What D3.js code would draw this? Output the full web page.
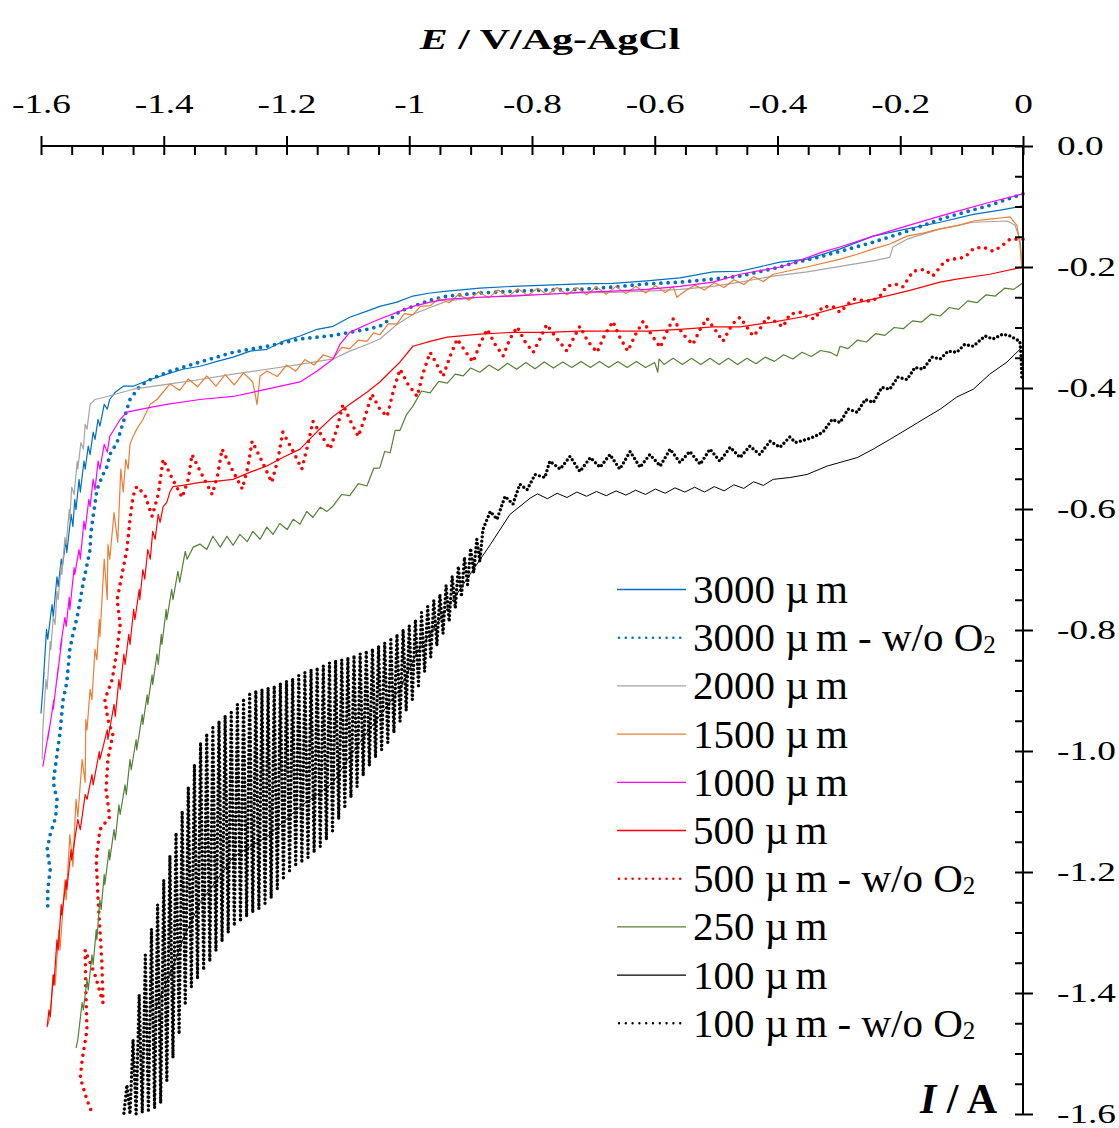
<!DOCTYPE html>
<html>
<head>
<meta charset="utf-8">
<script src="https://cdn.jsdelivr.net/npm/d3@7"></script>
<style>
  html, body { margin: 0; padding: 0; background: #fff; }
  svg { display: block; }
  text { font-family: "Liberation Serif", "Times New Roman", serif; fill: #000; }
</style>
</head>
<body>
<svg id="chart" width="1119" height="1128"></svg>
<script>
// axis ticks
const xTicks = [-1.6, -1.4, -1.2, -1.0, -0.8, -0.6, -0.4, -0.2, 0]
const xTickLabels = ["-1.6", "-1.4", "-1.2", "-1", "-0.8", "-0.6", "-0.4", "-0.2", "0"]
const yTicks = [0, -0.2, -0.4, -0.6, -0.8, -1.0, -1.2, -1.4, -1.6]
const yTickLabels = ["0.0", "-0.2", "-0.4", "-0.6", "-0.8", "-1.0", "-1.2", "-1.4", "-1.6"]

const seriesNames = ["3000 µm", "3000 µm - w/o O2", "2000 µm", "1500 µm", "1000 µm",
    "500 µm", "500 µm - w/o O2", "250 µm", "100 µm", "100 µm - w/o O2"]

// [E (V), I (A)]
const s3000 = [[0.000,-0.099],[-0.037,-0.106],[-0.081,-0.113],[-0.135,-0.126],[-0.189,-0.137],[-0.244,-0.149],[-0.298,-0.170],[-0.352,-0.187],[-0.396,-0.192],[-0.461,-0.207],[-0.505,-0.208],[-0.559,-0.218],[-0.613,-0.223],[-0.668,-0.227],[-0.722,-0.228],[-0.776,-0.230],[-0.831,-0.232],[-0.885,-0.235],[-0.938,-0.240],[-0.966,-0.243],[-0.994,-0.248],[-1.020,-0.258],[-1.048,-0.265],[-1.069,-0.273],[-1.097,-0.283],[-1.124,-0.298],[-1.150,-0.303],[-1.178,-0.314],[-1.206,-0.323],[-1.232,-0.336],[-1.259,-0.339],[-1.287,-0.349],[-1.313,-0.356],[-1.341,-0.364],[-1.369,-0.369],[-1.395,-0.377],[-1.422,-0.386],[-1.450,-0.397],[-1.466,-0.397],[-1.479,-0.407],[-1.488,-0.419],[-1.492,-0.435],[-1.497,-0.427],[-1.504,-0.463],[-1.507,-0.452],[-1.512,-0.485],[-1.515,-0.473],[-1.520,-0.510],[-1.523,-0.496],[-1.528,-0.534],[-1.530,-0.521],[-1.536,-0.572],[-1.538,-0.551],[-1.543,-0.601],[-1.545,-0.584],[-1.548,-0.629],[-1.551,-0.609],[-1.558,-0.672],[-1.559,-0.650],[-1.566,-0.700],[-1.567,-0.683],[-1.572,-0.728],[-1.574,-0.712],[-1.580,-0.778],[-1.582,-0.758],[-1.589,-0.815],[-1.591,-0.799],[-1.597,-0.898],[-1.595,-0.870],[-1.600,-0.938]]

const s3000n = [[0.000,-0.079],[-0.054,-0.098],[-0.108,-0.113],[-0.135,-0.121],[-0.189,-0.141],[-0.244,-0.159],[-0.298,-0.174],[-0.326,-0.182],[-0.380,-0.195],[-0.396,-0.200],[-0.461,-0.215],[-0.505,-0.220],[-0.559,-0.225],[-0.613,-0.228],[-0.668,-0.233],[-0.722,-0.237],[-0.776,-0.238],[-0.831,-0.240],[-0.885,-0.243],[-0.938,-0.248],[-0.966,-0.255],[-0.994,-0.265],[-1.015,-0.273],[-1.031,-0.286],[-1.048,-0.298],[-1.069,-0.303],[-1.097,-0.308],[-1.124,-0.313],[-1.150,-0.316],[-1.178,-0.319],[-1.232,-0.331],[-1.287,-0.341],[-1.341,-0.357],[-1.395,-0.374],[-1.422,-0.386],[-1.439,-0.397],[-1.455,-0.419],[-1.460,-0.435],[-1.466,-0.457],[-1.471,-0.473],[-1.476,-0.490],[-1.488,-0.510],[-1.492,-0.529],[-1.499,-0.543],[-1.509,-0.568],[-1.512,-0.592],[-1.515,-0.612],[-1.519,-0.642],[-1.520,-0.667],[-1.525,-0.692],[-1.531,-0.721],[-1.536,-0.750],[-1.541,-0.778],[-1.548,-0.807],[-1.553,-0.832],[-1.558,-0.887],[-1.564,-0.915],[-1.569,-0.970],[-1.574,-1.006],[-1.580,-1.052],[-1.574,-1.080],[-1.576,-1.109],[-1.585,-1.138],[-1.590,-1.163],[-1.585,-1.196],[-1.589,-1.229],[-1.589,-1.257]]

const s2000 = [[-0.002,-0.190],[-0.005,-0.154],[-0.013,-0.131],[-0.026,-0.124],[-0.081,-0.126],[-0.135,-0.137],[-0.189,-0.154],[-0.212,-0.167],[-0.217,-0.184],[-0.244,-0.190],[-0.298,-0.199],[-0.352,-0.208],[-0.407,-0.215],[-0.461,-0.225],[-0.505,-0.232],[-0.559,-0.237],[-0.613,-0.240],[-0.668,-0.242],[-0.722,-0.243],[-0.776,-0.245],[-0.831,-0.247],[-0.885,-0.250],[-0.938,-0.256],[-0.994,-0.278],[-1.020,-0.295],[-1.048,-0.319],[-1.069,-0.328],[-1.097,-0.339],[-1.124,-0.352],[-1.178,-0.361],[-1.232,-0.369],[-1.287,-0.377],[-1.341,-0.386],[-1.395,-0.394],[-1.450,-0.402],[-1.492,-0.414],[-1.512,-0.419],[-1.520,-0.427],[-1.525,-0.468],[-1.528,-0.460],[-1.531,-0.501],[-1.535,-0.490],[-1.540,-0.534],[-1.541,-0.521],[-1.546,-0.576],[-1.550,-0.564],[-1.553,-0.617],[-1.554,-0.601],[-1.559,-0.659],[-1.561,-0.647],[-1.566,-0.708],[-1.567,-0.692],[-1.572,-0.750],[-1.574,-0.736],[-1.577,-0.791],[-1.580,-0.778],[-1.584,-0.832],[-1.585,-0.819],[-1.590,-0.898],[-1.592,-0.882],[-1.597,-0.965],[-1.598,-1.014]]

const s1500 = [[-0.002,-0.200],[-0.005,-0.162],[-0.010,-0.131],[-0.021,-0.117],[-0.037,-0.119],[-0.054,-0.121],[-0.081,-0.124],[-0.108,-0.132],[-0.135,-0.137],[-0.163,-0.144],[-0.189,-0.149],[-0.217,-0.162],[-0.244,-0.170],[-0.270,-0.179],[-0.298,-0.187],[-0.352,-0.200],[-0.407,-0.212],[-0.423,-0.224],[-0.439,-0.216],[-0.455,-0.229],[-0.471,-0.221],[-0.487,-0.234],[-0.503,-0.226],[-0.519,-0.238],[-0.535,-0.230],[-0.551,-0.240],[-0.564,-0.250],[-0.570,-0.232],[-0.583,-0.242],[-0.599,-0.231],[-0.615,-0.243],[-0.631,-0.232],[-0.647,-0.244],[-0.663,-0.232],[-0.679,-0.245],[-0.695,-0.233],[-0.711,-0.246],[-0.727,-0.234],[-0.743,-0.246],[-0.759,-0.234],[-0.775,-0.246],[-0.791,-0.235],[-0.807,-0.247],[-0.823,-0.236],[-0.839,-0.249],[-0.855,-0.238],[-0.871,-0.251],[-0.887,-0.241],[-0.903,-0.255],[-0.919,-0.245],[-0.935,-0.259],[-0.951,-0.252],[-0.966,-0.264],[-0.982,-0.265],[-0.994,-0.279],[-1.008,-0.277],[-1.020,-0.294],[-1.034,-0.294],[-1.048,-0.312],[-1.058,-0.309],[-1.069,-0.323],[-1.083,-0.321],[-1.097,-0.335],[-1.110,-0.333],[-1.124,-0.351],[-1.140,-0.345],[-1.155,-0.362],[-1.170,-0.353],[-1.185,-0.372],[-1.200,-0.362],[-1.215,-0.381],[-1.232,-0.372],[-1.243,-0.380],[-1.248,-0.427],[-1.255,-0.390],[-1.270,-0.375],[-1.285,-0.395],[-1.300,-0.378],[-1.315,-0.397],[-1.330,-0.380],[-1.345,-0.398],[-1.360,-0.385],[-1.374,-0.404],[-1.390,-0.393],[-1.411,-0.419],[-1.422,-0.427],[-1.434,-0.452],[-1.444,-0.468],[-1.450,-0.480],[-1.455,-0.493],[-1.458,-0.534],[-1.462,-0.518],[-1.466,-0.572],[-1.470,-0.534],[-1.475,-0.655],[-1.481,-0.606],[-1.488,-0.683],[-1.491,-0.659],[-1.492,-0.750],[-1.497,-0.683],[-1.504,-0.811],[-1.505,-0.783],[-1.509,-0.849],[-1.512,-0.832],[-1.517,-0.915],[-1.520,-0.898],[-1.525,-0.965],[-1.527,-0.948],[-1.528,-1.052],[-1.533,-1.014],[-1.540,-1.109],[-1.543,-1.080],[-1.548,-1.191],[-1.553,-1.138],[-1.559,-1.246],[-1.561,-1.213],[-1.569,-1.329],[-1.571,-1.296],[-1.577,-1.387],[-1.580,-1.370],[-1.585,-1.439],[-1.589,-1.453]]

const s1000 = [[0.000,-0.079],[-0.054,-0.093],[-0.108,-0.108],[-0.135,-0.116],[-0.189,-0.132],[-0.244,-0.149],[-0.298,-0.167],[-0.326,-0.175],[-0.380,-0.195],[-0.396,-0.200],[-0.461,-0.212],[-0.505,-0.225],[-0.559,-0.232],[-0.613,-0.237],[-0.668,-0.240],[-0.722,-0.242],[-0.776,-0.245],[-0.831,-0.248],[-0.885,-0.250],[-0.938,-0.253],[-0.966,-0.258],[-0.994,-0.265],[-1.020,-0.275],[-1.048,-0.286],[-1.069,-0.295],[-1.097,-0.308],[-1.113,-0.328],[-1.124,-0.352],[-1.150,-0.372],[-1.178,-0.390],[-1.232,-0.402],[-1.287,-0.414],[-1.341,-0.419],[-1.395,-0.427],[-1.422,-0.432],[-1.460,-0.440],[-1.471,-0.452],[-1.483,-0.472],[-1.488,-0.480],[-1.492,-0.506],[-1.497,-0.493],[-1.504,-0.534],[-1.507,-0.521],[-1.512,-0.568],[-1.515,-0.551],[-1.520,-0.596],[-1.522,-0.584],[-1.528,-0.634],[-1.530,-0.620],[-1.536,-0.683],[-1.538,-0.667],[-1.545,-0.708],[-1.546,-0.697],[-1.553,-0.766],[-1.554,-0.746],[-1.559,-0.794],[-1.561,-0.779],[-1.569,-0.832],[-1.566,-0.816],[-1.574,-0.882],[-1.572,-0.862],[-1.580,-0.931],[-1.579,-0.915],[-1.589,-0.981],[-1.587,-0.965],[-1.597,-1.026]]

const s500 = [[0.000,-0.200],[-0.054,-0.212],[-0.108,-0.220],[-0.135,-0.225],[-0.189,-0.240],[-0.244,-0.253],[-0.298,-0.266],[-0.352,-0.281],[-0.407,-0.291],[-0.461,-0.299],[-0.505,-0.299],[-0.559,-0.303],[-0.613,-0.306],[-0.668,-0.306],[-0.722,-0.306],[-0.776,-0.308],[-0.831,-0.308],[-0.885,-0.311],[-0.938,-0.316],[-0.966,-0.323],[-0.994,-0.331],[-1.015,-0.357],[-1.048,-0.390],[-1.069,-0.407],[-1.097,-0.427],[-1.124,-0.447],[-1.150,-0.472],[-1.178,-0.501],[-1.206,-0.515],[-1.232,-0.529],[-1.259,-0.539],[-1.287,-0.551],[-1.313,-0.554],[-1.341,-0.556],[-1.369,-0.561],[-1.385,-0.563],[-1.390,-0.572],[-1.395,-0.589],[-1.401,-0.596],[-1.406,-0.622],[-1.409,-0.609],[-1.414,-0.650],[-1.418,-0.637],[-1.422,-0.683],[-1.426,-0.667],[-1.431,-0.716],[-1.434,-0.700],[-1.439,-0.750],[-1.440,-0.733],[-1.447,-0.783],[-1.449,-0.766],[-1.455,-0.824],[-1.457,-0.807],[-1.463,-0.857],[-1.465,-0.840],[-1.471,-0.898],[-1.473,-0.882],[-1.479,-0.943],[-1.481,-0.923],[-1.491,-0.981],[-1.492,-0.965],[-1.504,-1.014],[-1.505,-1.001],[-1.515,-1.056],[-1.517,-1.039],[-1.525,-1.080],[-1.528,-1.072],[-1.536,-1.130],[-1.540,-1.113],[-1.550,-1.180],[-1.551,-1.163],[-1.558,-1.229],[-1.559,-1.213],[-1.566,-1.271],[-1.567,-1.254],[-1.572,-1.329],[-1.574,-1.312],[-1.579,-1.387],[-1.580,-1.370],[-1.585,-1.439],[-1.587,-1.428],[-1.590,-1.456]]

const s500n = [[0.000,-0.154],[-0.021,-0.154],[-0.037,-0.167],[-0.049,-0.174],[-0.065,-0.167],[-0.081,-0.170],[-0.095,-0.184],[-0.114,-0.187],[-0.127,-0.190],[-0.147,-0.215],[-0.160,-0.204],[-0.179,-0.207],[-0.196,-0.233],[-0.209,-0.228],[-0.222,-0.232],[-0.233,-0.248],[-0.246,-0.256],[-0.257,-0.256],[-0.274,-0.253],[-0.285,-0.261],[-0.298,-0.275],[-0.310,-0.265],[-0.327,-0.266],[-0.339,-0.286],[-0.350,-0.283],[-0.363,-0.275],[-0.380,-0.278],[-0.391,-0.299],[-0.404,-0.290],[-0.417,-0.283],[-0.429,-0.303],[-0.440,-0.314],[-0.450,-0.299],[-0.461,-0.283],[-0.474,-0.295],[-0.489,-0.323],[-0.502,-0.303],[-0.515,-0.285],[-0.526,-0.303],[-0.538,-0.328],[-0.554,-0.311],[-0.570,-0.286],[-0.580,-0.306],[-0.591,-0.333],[-0.604,-0.314],[-0.619,-0.290],[-0.631,-0.311],[-0.644,-0.339],[-0.657,-0.316],[-0.668,-0.290],[-0.681,-0.311],[-0.694,-0.341],[-0.709,-0.323],[-0.722,-0.298],[-0.733,-0.319],[-0.743,-0.339],[-0.759,-0.319],[-0.776,-0.295],[-0.787,-0.319],[-0.798,-0.341],[-0.811,-0.324],[-0.824,-0.299],[-0.836,-0.319],[-0.847,-0.347],[-0.860,-0.328],[-0.873,-0.303],[-0.885,-0.328],[-0.896,-0.357],[-0.909,-0.339],[-0.922,-0.319],[-0.934,-0.349],[-0.945,-0.381],[-0.955,-0.361],[-0.966,-0.341],[-0.978,-0.377],[-0.987,-0.414],[-1.002,-0.394],[-1.015,-0.369],[-1.026,-0.405],[-1.036,-0.447],[-1.048,-0.435],[-1.061,-0.410],[-1.072,-0.448],[-1.083,-0.480],[-1.097,-0.452],[-1.108,-0.427],[-1.118,-0.468],[-1.129,-0.501],[-1.142,-0.480],[-1.157,-0.455],[-1.165,-0.493],[-1.175,-0.534],[-1.189,-0.505],[-1.206,-0.473],[-1.214,-0.518],[-1.224,-0.556],[-1.240,-0.521],[-1.256,-0.488],[-1.263,-0.531],[-1.272,-0.567],[-1.289,-0.534],[-1.305,-0.501],[-1.312,-0.543],[-1.321,-0.576],[-1.338,-0.543],[-1.354,-0.510],[-1.360,-0.551],[-1.370,-0.581],[-1.387,-0.548],[-1.401,-0.518],[-1.409,-0.576],[-1.419,-0.612],[-1.431,-0.576],[-1.444,-0.563],[-1.450,-0.579],[-1.455,-0.617],[-1.460,-0.667],[-1.468,-0.708],[-1.476,-0.750],[-1.471,-0.791],[-1.476,-0.832],[-1.484,-0.882],[-1.496,-0.915],[-1.491,-0.948],[-1.483,-0.973],[-1.491,-1.014],[-1.494,-1.064],[-1.488,-1.109],[-1.504,-1.130],[-1.510,-1.180],[-1.507,-1.246],[-1.501,-1.345],[-1.499,-1.416],[-1.512,-1.370],[-1.528,-1.329],[-1.527,-1.395],[-1.525,-1.461],[-1.533,-1.511],[-1.536,-1.540],[-1.525,-1.577],[-1.517,-1.598]]

const s250 = [[0.000,-0.226],[-0.015,-0.237],[-0.030,-0.235],[-0.045,-0.248],[-0.060,-0.246],[-0.075,-0.259],[-0.090,-0.256],[-0.105,-0.270],[-0.120,-0.267],[-0.135,-0.281],[-0.150,-0.278],[-0.165,-0.291],[-0.180,-0.289],[-0.195,-0.302],[-0.210,-0.300],[-0.225,-0.313],[-0.240,-0.310],[-0.255,-0.324],[-0.270,-0.321],[-0.285,-0.335],[-0.298,-0.331],[-0.303,-0.347],[-0.314,-0.341],[-0.330,-0.338],[-0.345,-0.348],[-0.360,-0.341],[-0.375,-0.352],[-0.390,-0.345],[-0.405,-0.356],[-0.420,-0.349],[-0.435,-0.360],[-0.450,-0.351],[-0.465,-0.361],[-0.480,-0.351],[-0.495,-0.361],[-0.510,-0.351],[-0.525,-0.361],[-0.540,-0.351],[-0.555,-0.361],[-0.570,-0.351],[-0.585,-0.361],[-0.593,-0.352],[-0.595,-0.374],[-0.600,-0.358],[-0.615,-0.366],[-0.630,-0.356],[-0.645,-0.366],[-0.660,-0.356],[-0.675,-0.366],[-0.690,-0.356],[-0.705,-0.366],[-0.720,-0.356],[-0.735,-0.366],[-0.750,-0.357],[-0.765,-0.367],[-0.780,-0.357],[-0.795,-0.368],[-0.810,-0.358],[-0.825,-0.369],[-0.840,-0.359],[-0.855,-0.371],[-0.870,-0.362],[-0.885,-0.374],[-0.900,-0.367],[-0.912,-0.380],[-0.925,-0.377],[-0.938,-0.392],[-0.952,-0.389],[-0.966,-0.408],[-0.980,-0.405],[-0.994,-0.430],[-1.005,-0.445],[-1.015,-0.470],[-1.023,-0.470],[-1.031,-0.507],[-1.040,-0.505],[-1.048,-0.532],[-1.058,-0.533],[-1.069,-0.562],[-1.083,-0.558],[-1.097,-0.578],[-1.110,-0.576],[-1.124,-0.595],[-1.134,-0.604],[-1.145,-0.597],[-1.157,-0.614],[-1.167,-0.604],[-1.178,-0.625],[-1.189,-0.617],[-1.199,-0.634],[-1.211,-0.624],[-1.222,-0.642],[-1.232,-0.630],[-1.243,-0.650],[-1.255,-0.637],[-1.264,-0.654],[-1.276,-0.642],[-1.287,-0.660],[-1.297,-0.645],[-1.308,-0.663],[-1.320,-0.645],[-1.330,-0.667],[-1.341,-0.658],[-1.352,-0.663],[-1.362,-0.683],[-1.365,-0.670],[-1.374,-0.721],[-1.377,-0.703],[-1.385,-0.750],[-1.387,-0.733],[-1.395,-0.783],[-1.396,-0.766],[-1.403,-0.824],[-1.404,-0.807],[-1.409,-0.857],[-1.411,-0.840],[-1.418,-0.890],[-1.419,-0.874],[-1.426,-0.923],[-1.427,-0.907],[-1.434,-0.956],[-1.435,-0.940],[-1.444,-0.998],[-1.445,-0.981],[-1.453,-1.031],[-1.455,-1.014],[-1.461,-1.072],[-1.463,-1.056],[-1.471,-1.105],[-1.473,-1.089],[-1.479,-1.147],[-1.481,-1.130],[-1.488,-1.180],[-1.489,-1.163],[-1.496,-1.221],[-1.497,-1.204],[-1.502,-1.262],[-1.504,-1.246],[-1.509,-1.312],[-1.510,-1.295],[-1.515,-1.353],[-1.517,-1.337],[-1.523,-1.395],[-1.525,-1.378],[-1.531,-1.428],[-1.533,-1.416],[-1.540,-1.477],[-1.543,-1.491]]

const s100 = [[0.000,-0.331],[-0.013,-0.344],[-0.026,-0.357],[-0.054,-0.377],[-0.081,-0.402],[-0.108,-0.415],[-0.135,-0.435],[-0.163,-0.452],[-0.189,-0.468],[-0.217,-0.485],[-0.244,-0.501],[-0.270,-0.515],[-0.298,-0.523],[-0.319,-0.529],[-0.352,-0.543],[-0.380,-0.548],[-0.407,-0.551],[-0.423,-0.561],[-0.439,-0.555],[-0.455,-0.566],[-0.471,-0.560],[-0.487,-0.570],[-0.503,-0.563],[-0.519,-0.572],[-0.535,-0.564],[-0.551,-0.572],[-0.567,-0.565],[-0.583,-0.574],[-0.599,-0.567],[-0.615,-0.576],[-0.631,-0.569],[-0.647,-0.577],[-0.663,-0.570],[-0.679,-0.578],[-0.695,-0.571],[-0.711,-0.579],[-0.727,-0.572],[-0.743,-0.581],[-0.759,-0.574],[-0.775,-0.583],[-0.791,-0.575],[-0.803,-0.582],[-0.836,-0.609],[-0.868,-0.659],[-0.901,-0.708],[-0.934,-0.758],[-0.966,-0.807],[-0.987,-0.836],[-1.015,-0.898],[-1.043,-0.935],[-1.069,-0.970],[-1.097,-1.009],[-1.124,-1.052],[-1.150,-1.072],[-1.178,-1.092],[-1.206,-1.118],[-1.232,-1.142],[-1.259,-1.158],[-1.287,-1.175],[-1.313,-1.213],[-1.341,-1.251],[-1.369,-1.312],[-1.385,-1.357],[-1.401,-1.395],[-1.414,-1.428]]

const s100n = [[-0.002,-0.382],[-0.003,-0.349],[-0.005,-0.323],[-0.021,-0.314],[-0.033,-0.311],[-0.049,-0.319],[-0.062,-0.314],[-0.081,-0.331],[-0.095,-0.328],[-0.108,-0.341],[-0.122,-0.339],[-0.135,-0.352],[-0.148,-0.349],[-0.163,-0.369],[-0.176,-0.366],[-0.189,-0.386],[-0.204,-0.382],[-0.217,-0.402],[-0.230,-0.399],[-0.244,-0.424],[-0.257,-0.419],[-0.270,-0.440],[-0.285,-0.435],[-0.298,-0.457],[-0.311,-0.452],[-0.326,-0.473],[-0.339,-0.480],[-0.352,-0.485],[-0.371,-0.490],[-0.380,-0.481],[-0.396,-0.498],[-0.412,-0.488],[-0.429,-0.510],[-0.445,-0.496],[-0.461,-0.515],[-0.477,-0.498],[-0.494,-0.521],[-0.510,-0.501],[-0.526,-0.526],[-0.543,-0.505],[-0.559,-0.523],[-0.575,-0.501],[-0.591,-0.529],[-0.608,-0.510],[-0.624,-0.531],[-0.640,-0.505],[-0.657,-0.534],[-0.673,-0.510],[-0.689,-0.531],[-0.705,-0.515],[-0.722,-0.538],[-0.738,-0.513],[-0.754,-0.534],[-0.771,-0.521],[-0.779,-0.548],[-0.795,-0.543],[-0.808,-0.568],[-0.820,-0.559],[-0.831,-0.592],[-0.844,-0.579],[-0.857,-0.617],[-0.868,-0.604],
    [-0.880,-0.634],[-0.885,-0.687],[-0.890,-0.650],[-0.895,-0.705],[-0.900,-0.665],[-0.905,-0.725],[-0.910,-0.680],[-0.915,-0.745],[-0.920,-0.695],[-0.925,-0.764],[-0.930,-0.711],[-0.935,-0.786],[-0.940,-0.726],[-0.945,-0.806],[-0.950,-0.741],[-0.955,-0.826],[-0.960,-0.751],[-0.965,-0.845],[-0.970,-0.761],[-0.975,-0.869],[-0.980,-0.771],[-0.985,-0.892],[-0.990,-0.783],[-0.995,-0.915],[-1.000,-0.793],[-1.005,-0.933],[-1.010,-0.799],[-1.015,-0.951],[-1.020,-0.807],[-1.025,-0.970],[-1.030,-0.816],[-1.035,-0.986],[-1.040,-0.821],[-1.045,-0.998],[-1.050,-0.826],[-1.055,-1.011],[-1.060,-0.831],[-1.065,-1.024],[-1.070,-0.834],[-1.075,-1.041],[-1.080,-0.839],[-1.085,-1.059],[-1.090,-0.842],[-1.095,-1.077],[-1.100,-0.845],[-1.105,-1.095],[-1.110,-0.849],[-1.115,-1.113],[-1.120,-0.850],[-1.125,-1.132],[-1.130,-0.854],[-1.135,-1.147],[-1.140,-0.859],[-1.145,-1.158],[-1.150,-0.862],[-1.155,-1.168],[-1.160,-0.865],[-1.165,-1.176],[-1.170,-0.870],[-1.175,-1.185],[-1.180,-0.875],[-1.185,-1.191],[-1.190,-0.880],[-1.195,-1.198],[-1.200,-0.884],[-1.205,-1.213],[-1.210,-0.888],[-1.215,-1.228],[-1.220,-0.892],[-1.225,-1.243],[-1.230,-0.895],[-1.235,-1.252],[-1.240,-0.898],[-1.245,-1.261],[-1.250,-0.900],[-1.255,-1.267],[-1.260,-0.903],[-1.265,-1.274],[-1.270,-0.913],[-1.275,-1.282],[-1.280,-0.923],[-1.285,-1.289],[-1.290,-0.933],[-1.295,-1.300],[-1.300,-0.941],[-1.305,-1.315],[-1.310,-0.950],[-1.315,-1.330],[-1.320,-0.958],[-1.325,-1.348],[-1.330,-0.971],[-1.335,-1.362],[-1.340,-0.986],[-1.345,-1.377],[-1.350,-1.022],[-1.355,-1.390],[-1.360,-1.059],[-1.365,-1.420],[-1.370,-1.099],[-1.375,-1.468],[-1.380,-1.135],[-1.385,-1.507],[-1.390,-1.173],[-1.395,-1.545],[-1.400,-1.213],[-1.405,-1.582],[-1.410,-1.254],[-1.415,-1.590],[-1.420,-1.294],[-1.425,-1.597],[-1.430,-1.337],[-1.435,-1.598],[-1.440,-1.403],[-1.445,-1.600],[-1.450,-1.477],[-1.455,-1.600],[-1.460,-1.552],[-1.465,-1.600]]

const seriesData = [s3000, s3000n, s2000, s1500, s1000, s500, s500n, s250, s100, s100n]

const styles = [
    { color: "#0070C0", width: 1.2 },
    { color: "#0070C0", width: 3.8, dash: "0,7.2", legendWidth: 2.6, legendDash: "0,6.8" },
    { color: "#A5A5A5", width: 1.2 },
    { color: "#ED7D31", width: 1.2 },
    { color: "#FF00FF", width: 1.2 },
    { color: "#FF0000", width: 1.2 },
    { color: "#FF0000", width: 3.6, dash: "0,7", legendWidth: 2.6, legendDash: "0,6.8" },
    { color: "#548235", width: 1.2 },
    { color: "#000000", width: 1.0 },
    { color: "#000000", width: 3.4, dash: "0,4.3", legendWidth: 2.4, legendDash: "0,6.8" }
]

const svg = d3.select("#chart")

const x = d3.scaleLinear().domain([-1.6, 0]).range([41, 1023])
const y = d3.scaleLinear().domain([0, -1.6]).range([146, 1114])

svg.append("defs").append("clipPath").attr("id", "plot")
    .append("rect").attr("x", 38).attr("y", 143).attr("width", 988).attr("height", 975)

// stretch text horizontally like the picture
function stretch(sel, k) {
    sel.each(function () {
        const len = this.getComputedTextLength()
        d3.select(this).attr("textLength", len * k).attr("lengthAdjust", "spacingAndGlyphs")
    })
}

// curves
const line = d3.line().x(d => x(d[0])).y(d => y(d[1]))
const curves = svg.append("g").attr("clip-path", "url(#plot)")
seriesData.forEach((data, i) => {
    const st = styles[i]
    curves.append("path")
        .datum(data)
        .attr("d", line)
        .attr("fill", "none")
        .attr("stroke", st.color)
        .attr("stroke-width", st.width)
        .attr("stroke-linejoin", "round")
        .attr("stroke-linecap", st.dash ? "round" : "butt")
        .attr("stroke-dasharray", st.dash || null)
})

// x axis (top)
const xMinor = d3.range(-1.6, 0.0001, 0.05)
svg.append("g").attr("transform", `translate(0,${y(0)})`)
    .call(d3.axisBottom(x).tickValues(xMinor).tickSize(9).tickFormat(""))
const gx = svg.append("g").attr("transform", `translate(0,${y(0)})`)
    .call(d3.axisTop(x).tickValues(xTicks).tickSize(10).tickPadding(23)
        .tickFormat((d, i) => xTickLabels[i]))

// y axis (right)
const yMinor = d3.range(0, -1.6001, -0.05)
svg.append("g").attr("transform", `translate(${x(0)},0)`)
    .call(d3.axisLeft(y).tickValues(yMinor).tickSize(8).tickFormat(""))
const gy = svg.append("g").attr("transform", `translate(${x(0)},0)`)
    .call(d3.axisRight(y).tickValues(yTicks).tickSize(10).tickPadding(24)
        .tickFormat((d, i) => yTickLabels[i]))

svg.selectAll(".domain").remove()
svg.selectAll(".tick line").attr("stroke", "#000").attr("stroke-width", 2)

svg.append("line")
    .attr("x1", x(-1.6)).attr("x2", x(0)).attr("y1", y(0)).attr("y2", y(0))
    .attr("stroke", "#000").attr("stroke-width", 2)
svg.append("line")
    .attr("x1", x(0)).attr("x2", x(0)).attr("y1", y(0)).attr("y2", y(-1.6))
    .attr("stroke", "#000").attr("stroke-width", 2)

gx.selectAll("text").attr("font-size", 27).attr("font-family", null).attr("fill", "#000")
gy.selectAll("text").attr("font-size", 27).attr("font-family", null).attr("fill", "#000")
    .attr("text-anchor", "start").attr("dy", "0.33em")
stretch(gx.selectAll("text"), 1.38)
stretch(gy.selectAll("text"), 1.38)

// axis titles
const title = svg.append("text")
    .attr("x", 550).attr("y", 49)
    .attr("text-anchor", "middle")
    .attr("font-size", 30).attr("font-weight", "bold")
title.append("tspan").attr("font-style", "italic").text("E")
title.append("tspan").text(" / V/Ag-AgCl")
stretch(title, 1.4)

const ylab = svg.append("text")
    .attr("x", 997).attr("y", 1113)
    .attr("text-anchor", "end")
    .attr("font-size", 42).attr("font-weight", "bold")
ylab.append("tspan").attr("font-style", "italic").text("I")
ylab.append("tspan").text(" / A")

// legend
const legend = svg.append("g")
seriesNames.forEach((name, i) => {
    const st = styles[i]
    const cy = 589.5 + i * 48.2
    legend.append("line")
        .attr("x1", st.dash ? 619 : 617).attr("x2", 686)
        .attr("y1", cy).attr("y2", cy)
        .attr("stroke", st.color)
        .attr("stroke-width", st.dash ? st.legendWidth : 1.3)
        .attr("stroke-linecap", st.dash ? "round" : "butt")
        .attr("stroke-dasharray", st.dash ? st.legendDash : null)

    const t = legend.append("text")
        .attr("x", 693).attr("y", cy + 13.5)
        .attr("font-size", 41)
    const parts = name.split("µm")
    t.append("tspan").text(parts[0] + "µ")
    const rest = "m" + parts[1]
    if (rest.endsWith("O2")) {
        t.append("tspan").attr("dx", 7).text(rest.slice(0, -1))
        t.append("tspan").attr("font-size", 25).attr("dy", 2).text("2")
    } else {
        t.append("tspan").attr("dx", 7).text(rest)
    }
})
</script>
</body>
</html>
